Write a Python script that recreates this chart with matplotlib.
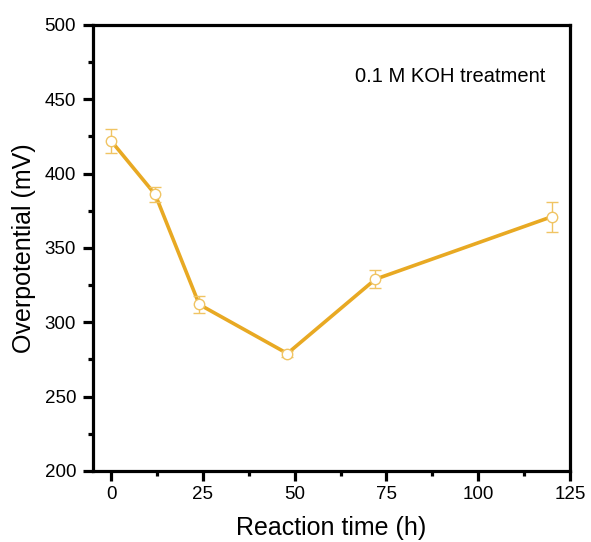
import matplotlib.pyplot as plt
from matplotlib.ticker import MultipleLocator

plt.rcParams['font.family'] = ['Liberation Sans', 'DejaVu Sans']

# 数据
reaction_time = [0, 12, 24, 48, 72, 120]
overpotential = [422, 386, 312, 279, 329, 371]
error = [8, 5, 6, 2, 6, 10]

LINE_COLOR = '#E8A923'
ERR_COLOR = '#F0C463'


def main():
    fig = plt.figure(figsize=(5.91, 5.42), dpi=100)
    ax = fig.add_axes([0.157, 0.131, 0.8075, 0.823])

    ax.plot(reaction_time, overpotential, color=LINE_COLOR, linewidth=2.6, zorder=2)
    ax.errorbar(reaction_time, overpotential, yerr=error, fmt='o', color=ERR_COLOR,
                markerfacecolor='white', markeredgecolor=ERR_COLOR, markersize=7.5,
                markeredgewidth=1.0, elinewidth=1.0, capsize=4, capthick=1.0, zorder=3)

    ax.set_xlim(-5, 125)
    ax.set_ylim(200, 500)
    ax.xaxis.set_major_locator(MultipleLocator(25))
    ax.xaxis.set_minor_locator(MultipleLocator(12.5))
    ax.yaxis.set_major_locator(MultipleLocator(50))
    ax.yaxis.set_minor_locator(MultipleLocator(25))

    for s in ax.spines.values():
        s.set_linewidth(2.3)
    ax.tick_params(which='major', direction='out', length=7, width=2.3, labelsize=13.5)
    ax.tick_params(axis='y', which='major', pad=5)
    ax.tick_params(which='minor', direction='out', length=3.6, width=2.3)

    ax.set_xlabel('Reaction time (h)', fontsize=18, labelpad=10)
    ax.set_ylabel('Overpotential (mV)', fontsize=18, labelpad=6)
    ax.text(0.948, 0.885, '0.1 M KOH treatment', transform=ax.transAxes,
            ha='right', va='center', fontsize=14.5)

    plt.savefig('out.png', dpi=100)


if __name__ == '__main__':
    main()
